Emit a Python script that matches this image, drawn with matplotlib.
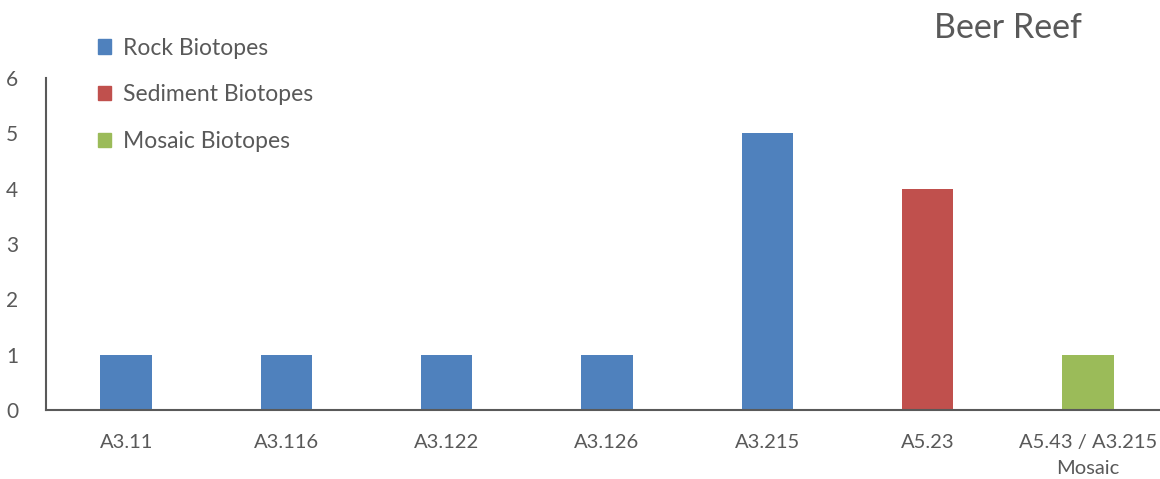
import matplotlib.pyplot as plt
from matplotlib.patches import Patch

plt.rcParams['font.family'] = ['Lato', 'DejaVu Sans']

biotopes = ['A3.11', 'A3.116', 'A3.122', 'A3.126', 'A3.215', 'A5.23', 'A5.43 / A3.215\nMosaic']
counts = [1, 1, 1, 1, 5, 4, 1]
groups = ['Rock', 'Rock', 'Rock', 'Rock', 'Rock', 'Sediment', 'Mosaic']

group_colors = {'Rock': '#4F81BD', 'Sediment': '#C0504D', 'Mosaic': '#9BBB59'}
group_labels = {'Rock': 'Rock Biotopes', 'Sediment': 'Sediment Biotopes', 'Mosaic': 'Mosaic Biotopes'}
grey = '#595959'

fig = plt.figure(figsize=(11.6, 4.79), dpi=100)
ax = fig.add_axes([46 / 1160, 69 / 479, 1 - 46 / 1160, 332 / 479])

x = range(len(biotopes))
ax.bar(x, counts, width=0.32, color=[group_colors[g] for g in groups])

ax.set_xlim(-0.5, 6.45)
ax.set_ylim(0, 6)
ax.set_xticks(list(x))
ax.set_xticklabels(biotopes, linespacing=1.7)
ax.set_yticks(range(7))
ax.tick_params(length=0, colors=grey, labelsize=14.5)
ax.tick_params(axis='x', pad=17)
ax.tick_params(axis='y', pad=20, labelsize=15)
for s in ['top', 'right']:
    ax.spines[s].set_visible(False)
for s in ['left', 'bottom']:
    ax.spines[s].set_color(grey)
    ax.spines[s].set_linewidth(1.5)

handles = [Patch(color=group_colors[g], label=group_labels[g]) for g in ['Rock', 'Sediment', 'Mosaic']]
fig.legend(handles=handles, loc='upper left', bbox_to_anchor=(77 / 1160, 1 - 17 / 479),
           frameon=False, fontsize=16.5, labelcolor=grey, handlelength=0.6, handleheight=0.6,
           handletextpad=0.5, labelspacing=1.12)

fig.text(1008 / 1160, 1 - 28 / 479, 'Beer Reef', ha='center', va='center', fontsize=24.5, color=grey)

fig.savefig('out.png', dpi=100)
